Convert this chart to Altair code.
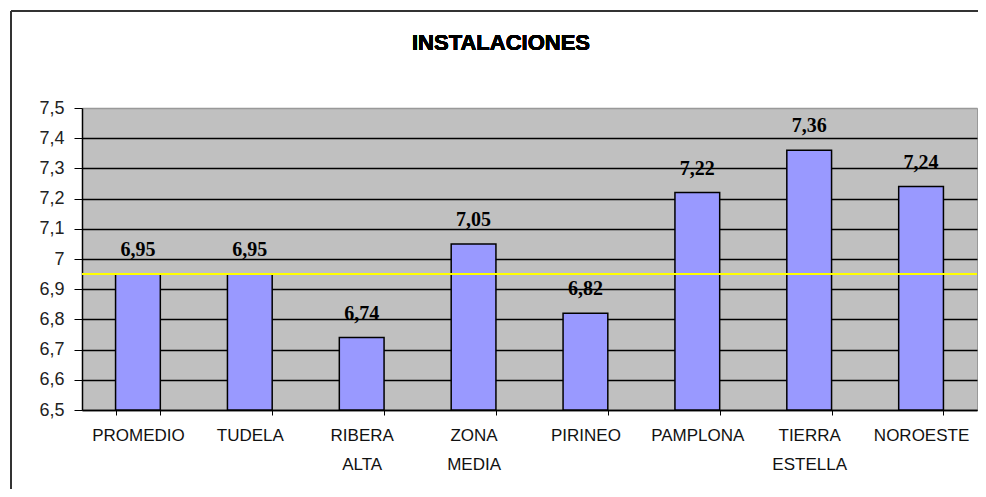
import altair as alt
import pandas as pd

categories = ["PROMEDIO", "TUDELA", "RIBERA ALTA", "ZONA MEDIA", "PIRINEO",
              "PAMPLONA", "TIERRA ESTELLA", "NOROESTE"]
values = [6.95, 6.95, 6.74, 7.05, 6.82, 7.22, 7.36, 7.24]
y_ticks = [6.5, 6.6, 6.7, 6.8, 6.9, 7.0, 7.1, 7.2, 7.3, 7.4, 7.5]
y_min, y_max = 6.5, 7.5
average = 6.95
title_text = "INSTALACIONES"

df = pd.DataFrame({"cat": categories, "val": values})

W, H = 895, 302

x_axis = alt.Axis(labelAngle=0, tickBand="extent",
                  labelExpr="split(datum.label, ' ')",
                  labelLineHeight=29, labelFontSize=17,
                  labelFont="Liberation Sans", labelColor="#111",
                  labelPadding=12, tickSize=5, tickColor="#000",
                  domainColor="#000", domainWidth=1.5, grid=False)
y_axis = alt.Axis(values=y_ticks, labelOverlap=False, tickCount=11,
                  labelExpr="replace(format(datum.value, '.2~f'), '.', ',')",
                  labelFontSize=18, labelFont="Liberation Sans",
                  labelColor="#222", labelPadding=10, tickSize=8,
                  tickColor="#000", domainColor="#000", domainWidth=1.5,
                  grid=True, gridWidth=1.5,
                  gridColor={"condition": {"test": "datum.value >= 7.49", "value": "#999999"},
                             "value": "#000000"})

x_scale = alt.Scale(paddingInner=0.6, paddingOuter=0.3)
y_scale = alt.Scale(domain=[y_min, y_max], zero=False, nice=False)

bars = alt.Chart(df).mark_bar(color="#9999FF", stroke="#000", strokeWidth=1.5).encode(
    x=alt.X("cat:N", sort=categories, title=None, scale=x_scale, axis=x_axis),
    y=alt.Y("val:Q", scale=y_scale, title=None, axis=y_axis),
    y2=alt.datum(y_min),
)

avg_rule = alt.Chart(df).mark_rule(color="#FFFF00", strokeWidth=2).encode(
    y=alt.YDatum(average, scale=y_scale, axis=y_axis, title=None)
)

labels = alt.Chart(df).transform_calculate(
    lab="replace(format(datum.val, '.2f'), '.', ',')"
).mark_text(font="Liberation Serif", fontWeight="bold", fontSize=20,
            baseline="alphabetic", dy=-18, color="#000").encode(
    x=alt.X("cat:N", sort=categories, title=None, scale=x_scale, axis=x_axis),
    y=alt.Y("val:Q", scale=y_scale, title=None, axis=y_axis),
    text="lab:N",
)

frame_v = alt.Chart(df).mark_rule(color="#333", strokeWidth=2).encode(
    x=alt.value(-71), y=alt.value(-97), y2=alt.value(420)
)
frame_h = alt.Chart(df).mark_rule(color="#333", strokeWidth=2).encode(
    y=alt.value(-97), x=alt.value(-71), x2=alt.value(960)
)
title = alt.Chart(df).mark_text(font="Liberation Sans", fontWeight="bold", fontSize=22,
                                 baseline="alphabetic", align="center", color="#000").encode(
    x=alt.value(419), y=alt.value(-58), text=alt.value(title_text)
)

chart = alt.layer(bars, avg_rule, labels, frame_v, frame_h, title).properties(
    width=W, height=H,
    autosize=alt.AutoSizeParams(type="none"),
    padding={"left": 74, "top": 100, "right": 1, "bottom": 79},
    background="#FFFFFF",
).configure_view(fill="#C0C0C0", stroke="#999999", strokeWidth=1)

chart.save("out.html", embed_options={"renderer": "svg", "actions": False})
